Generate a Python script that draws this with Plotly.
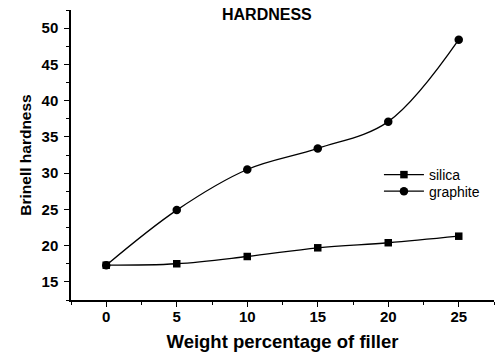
import plotly.graph_objects as go

x_vals = [0, 5, 10, 15, 20, 25]
silica = [17.3, 17.5, 18.5, 19.7, 20.4, 21.3]
graphite = [17.3, 24.9, 30.5, 33.4, 37.1, 48.4]
x_ticks = [0, 5, 10, 15, 20, 25]
y_ticks = [15, 20, 25, 30, 35, 40, 45, 50]

fig = go.Figure()
fig.add_trace(go.Scatter(x=x_vals, y=silica, name="silica", mode="lines+markers",
                         legend="legend",
                         line=dict(color="black", width=1.3, shape="spline"),
                         marker=dict(symbol="square", size=7.5, color="black")))
fig.add_trace(go.Scatter(x=x_vals, y=graphite, name="graphite", mode="lines+markers",
                         legend="legend2",
                         line=dict(color="black", width=1.3, shape="spline"),
                         marker=dict(symbol="circle", size=8.5, color="black")))

font = "Liberation Sans, Arial, sans-serif"
leg_common = dict(x=0.728, xanchor="left", yanchor="middle",
                  font=dict(size=14, family=font), bgcolor="rgba(0,0,0,0)",
                  itemwidth=40)
fig.update_layout(
    width=499, height=354,
    margin=dict(l=71, r=5, t=10, b=54, autoexpand=False),
    paper_bgcolor="white", plot_bgcolor="white",
    font=dict(family=font, color="black"),
    showlegend=True,
    legend=dict(y=0.431, **leg_common),
    legend2=dict(y=0.374, **leg_common),
    xaxis=dict(range=[-2.5, 27.5], tickvals=x_ticks, showgrid=False, zeroline=False,
               automargin=False,
               showline=True, linecolor="black", linewidth=1.5,
               ticks="outside", ticklen=5, tickwidth=1.2, tickcolor="black",
               ticklabelstandoff=-3,
               tickfont=dict(size=15, family=font, weight="bold"),
               minor=dict(ticks="outside", ticklen=3, dtick=2.5, tick0=0, tickcolor="black"),
               title=dict(text="<b>Weight percentage of filler</b>", font=dict(size=18.5), standoff=11)),
    yaxis=dict(range=[12.5, 52.5], tickvals=y_ticks, showgrid=False, zeroline=False,
               automargin=False,
               showline=True, linecolor="black", linewidth=1.5,
               ticks="outside", ticklen=5, tickwidth=1.2, tickcolor="black",
               ticklabelstandoff=3,
               tickfont=dict(size=15, family=font, weight="bold"),
               minor=dict(ticks="outside", ticklen=3, dtick=2.5, tick0=0, tickcolor="black"),
               title=dict(text="<b>Brinell hardness</b>", font=dict(size=15.5), standoff=6)),
    annotations=[dict(text="<b>HARDNESS</b>", x=0.463, y=0.985, xref="paper", yref="paper",
                      xanchor="center", yanchor="middle", showarrow=False,
                      font=dict(size=16, family=font))],
)

fig.write_html("out.html", config={"displayModeBar": False},
               post_script="document.body.style.margin='0';document.body.style.overflow='hidden';")
